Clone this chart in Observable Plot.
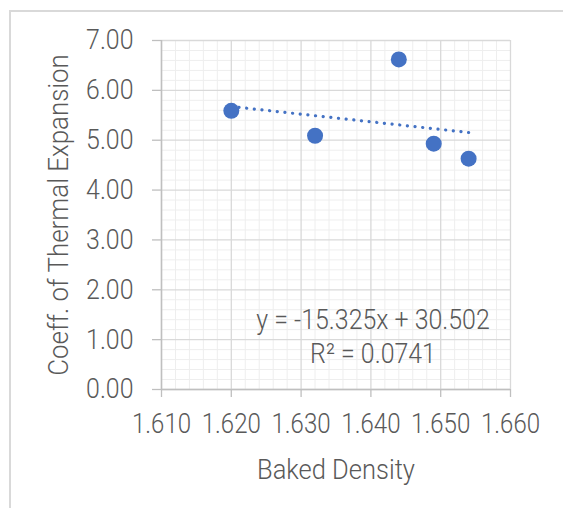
<!DOCTYPE html>
<html><head><meta charset="utf-8">
<script src="https://cdn.jsdelivr.net/npm/d3@7"></script>
<script src="https://cdn.jsdelivr.net/npm/@observablehq/plot@0.6"></script>
<style>
html,body{margin:0;padding:0;background:#fff;overflow:hidden;}
#wrap{position:relative;width:563px;height:508px;overflow:hidden;}
#frame{position:absolute;left:9px;top:10px;width:700px;height:700px;border:2px solid #d9d9d9;box-sizing:border-box;}
#chart{position:absolute;left:0;top:0;}
</style></head><body>
<div id="wrap"><div id="frame"></div><div id="chart"></div></div>
<script>
const density = [1.620, 1.632, 1.644, 1.649, 1.654];
const cte = [5.59, 5.09, 6.62, 4.93, 4.63];
const xTicks = [1.610, 1.620, 1.630, 1.640, 1.650, 1.660];
const yTicks = [0, 1, 2, 3, 4, 5, 6, 7];
const slope = -15.325, intercept = 30.502, r2 = 0.0741;
const xLabel = "Baked Density";
const yLabel = "Coeff. of Thermal Expansion";

const points = density.map((d, i) => ({x: d, y: cte[i]}));
const x0 = d3.min(density), x1 = d3.max(density);
const trend = [x0, x1].map(x => ({x, y: slope * x + intercept}));
const xMinor = d3.range(0, 26).map(i => +(1.610 + i * 0.002).toFixed(3)).filter(v => !xTicks.some(t => Math.abs(t - v) < 1e-9));
const yMinor = d3.range(0, 36).map(i => +(i * 0.2).toFixed(1)).filter(v => !yTicks.some(t => Math.abs(t - v) < 1e-9));
const eqText = `y = ${slope}x + ${intercept}\nR² = ${r2}`;

const font = "Roboto, sans-serif";
const blue = "#4472C4";

const chart = Plot.plot({
  width: 563, height: 508,
  marginLeft: 161, marginRight: 53, marginTop: 40, marginBottom: 119,
  style: {fontFamily: font, fontSize: "28px", fontWeight: 300, color: "#595959", background: "transparent"},
  x: {domain: [1.610, 1.660]},
  y: {domain: [0, 7]},
  marks: [
    Plot.gridX(xMinor, {stroke: "#eeeeee", strokeOpacity: 1, strokeWidth: 1}),
    Plot.gridY(yMinor, {stroke: "#eeeeee", strokeOpacity: 1, strokeWidth: 1}),
    Plot.gridX(xTicks, {stroke: "#d9d9d9", strokeOpacity: 1, strokeWidth: 1.3}),
    Plot.gridY(yTicks, {stroke: "#d9d9d9", strokeOpacity: 1, strokeWidth: 1.3}),
    Plot.axisX({ticks: xTicks, tickFormat: d3.format(".3f"), tickSize: 8, tickPadding: 16, stroke: "#bfbfbf", strokeWidth: 1.3,
      label: xLabel, labelAnchor: "center", labelArrow: "none", labelOffset: 89, fill: "#595959", fontSize: 28}),
    Plot.axisY({ticks: yTicks, tickFormat: d3.format(".2f"), tickSize: 9, tickPadding: 19, stroke: "#bfbfbf", strokeWidth: 1.3,
      label: yLabel, labelAnchor: "center", labelArrow: "none", labelOffset: 113, fill: "#595959", fontSize: 28}),
    Plot.ruleY([0], {stroke: "#bfbfbf", strokeWidth: 1.5}),
    Plot.ruleX([1.610], {stroke: "#bfbfbf", strokeWidth: 1.5}),
    Plot.line(trend, {x: "x", y: "y", stroke: blue, strokeWidth: 3.2, strokeDasharray: "0.1 7.6", strokeLinecap: "round"}),
    Plot.dot(points, {x: "x", y: "y", r: 8, fill: blue, stroke: "none"}),
    Plot.text([eqText], {frameAnchor: "bottom", dx: 37, dy: -27, lineAnchor: "bottom", lineHeight: 1.2, fill: "#595959", fontSize: 28, textAnchor: "middle"})
  ]
});
document.getElementById("chart").appendChild(chart);

// narrow the glyphs to match the condensed face of the original
function squeeze(sel, k) {
  chart.querySelectorAll(sel).forEach(t => {
    const spans = t.querySelectorAll("tspan");
    const els = spans.length ? Array.from(spans) : [t];
    els.forEach(e => {
      const L = e.getComputedTextLength();
      if (L > 0) { e.setAttribute("textLength", (L * k).toFixed(2)); e.setAttribute("lengthAdjust", "spacingAndGlyphs"); }
    });
  });
}
squeeze('g[aria-label="x-axis tick label"] text', 0.86);
squeeze('g[aria-label="y-axis tick label"] text', 0.89);
squeeze('g[aria-label="x-axis label"] text', 0.91);
squeeze('g[aria-label="y-axis label"] text', 0.925);
squeeze('g[aria-label="text"] text', 0.89);
</script>
</body></html>
